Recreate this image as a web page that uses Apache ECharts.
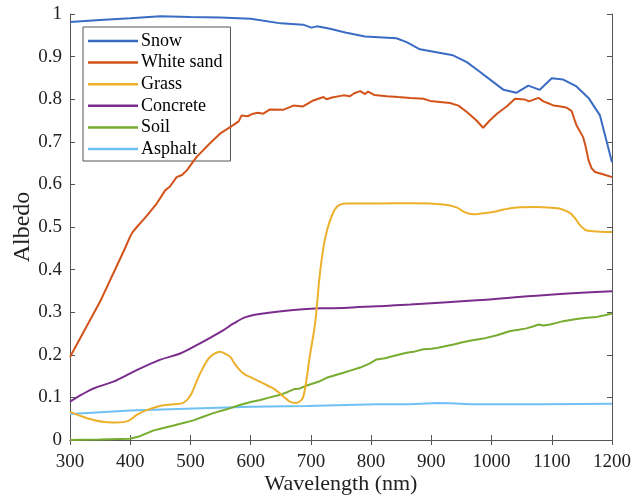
<!DOCTYPE html>
<html>
<head>
<meta charset="utf-8">
<script src="https://cdn.jsdelivr.net/npm/echarts@6/dist/echarts.min.js"></script>
<style>html,body{margin:0;padding:0;background:#fff;}#c{width:632px;height:498px;}</style>
</head>
<body>
<div id="c"></div>
<script>
const seriesNames = ['Snow', 'White sand', 'Grass', 'Concrete', 'Soil', 'Asphalt'];
const xTicks = [300, 400, 500, 600, 700, 800, 900, 1000, 1100, 1200];
const yTicks = [0, 0.1, 0.2, 0.3, 0.4, 0.5, 0.6, 0.7, 0.8, 0.9, 1];

const snow = [[300,0.981],[350,0.986],[400,0.990],[450,0.995],[500,0.993],[550,0.992],[600,0.989],[650,0.978],[687,0.975],[701,0.968],[710,0.971],[730,0.966],[759,0.956],[790,0.947],[842,0.943],[859,0.934],[881,0.917],[936,0.903],[959,0.887],[981,0.864],[1003,0.840],[1020,0.822],[1041,0.815],[1061,0.832],[1080,0.822],[1100,0.849],[1119,0.846],[1141,0.830],[1161,0.803],[1180,0.762],[1200,0.652]];

const whiteSand = [[300,0.195],[350,0.325],[391,0.449],[400,0.478],[404,0.488],[411,0.500],[425,0.522],[444,0.555],[458,0.586],[466,0.595],[477,0.617],[486,0.622],[494,0.633],[510,0.664],[530,0.693],[549,0.719],[571,0.739],[580,0.748],[585,0.762],[595,0.760],[604,0.766],[612,0.768],[621,0.766],[632,0.776],[654,0.775],[671,0.785],[687,0.783],[704,0.797],[721,0.805],[726,0.800],[735,0.804],[754,0.809],[765,0.807],[772,0.814],[782,0.819],[790,0.812],[795,0.818],[805,0.810],[826,0.807],[845,0.805],[865,0.803],[887,0.801],[898,0.796],[931,0.791],[945,0.785],[959,0.770],[975,0.750],[986,0.733],[997,0.750],[1009,0.766],[1025,0.783],[1039,0.801],[1050,0.800],[1056,0.799],[1062,0.795],[1070,0.799],[1078,0.803],[1086,0.795],[1095,0.790],[1103,0.785],[1115,0.783],[1125,0.780],[1133,0.772],[1137,0.755],[1141,0.739],[1152,0.711],[1156,0.690],[1161,0.657],[1166,0.638],[1172,0.629],[1185,0.624],[1200,0.617]];

const grass = [[300,0.066],[320,0.055],[339,0.047],[358,0.042],[378,0.041],[397,0.045],[411,0.059],[427,0.070],[449,0.080],[472,0.084],[488,0.087],[499,0.102],[508,0.130],[516,0.156],[530,0.191],[540,0.203],[549,0.207],[557,0.203],[566,0.195],[574,0.178],[582,0.164],[590,0.154],[599,0.148],[615,0.137],[632,0.125],[640,0.119],[649,0.109],[657,0.099],[665,0.090],[675,0.087],[682,0.091],[687,0.100],[692,0.135],[698,0.195],[707,0.274],[715,0.391],[723,0.469],[732,0.516],[743,0.547],[759,0.555],[800,0.555],[870,0.556],[920,0.553],[942,0.546],[955,0.535],[970,0.530],[985,0.532],[1003,0.535],[1020,0.541],[1042,0.546],[1075,0.547],[1100,0.545],[1114,0.543],[1130,0.533],[1140,0.518],[1147,0.504],[1155,0.494],[1161,0.491],[1180,0.489],[1200,0.488]];

const concrete = [[300,0.090],[320,0.107],[339,0.121],[372,0.137],[405,0.160],[449,0.188],[483,0.203],[516,0.227],[555,0.258],[571,0.273],[593,0.289],[627,0.298],[671,0.305],[715,0.309],[754,0.310],[809,0.314],[865,0.318],[975,0.328],[1086,0.340],[1200,0.349]];

const soil = [[300,0.000],[350,0.001],[400,0.003],[416,0.009],[438,0.022],[455,0.028],[472,0.034],[488,0.040],[505,0.046],[520,0.054],[538,0.063],[560,0.072],[582,0.082],[600,0.089],[616,0.094],[632,0.100],[649,0.106],[660,0.112],[671,0.119],[682,0.121],[693,0.128],[715,0.138],[726,0.146],[740,0.152],[754,0.158],[768,0.164],[782,0.170],[798,0.180],[809,0.189],[823,0.192],[837,0.197],[859,0.205],[873,0.208],[887,0.213],[900,0.214],[909,0.216],[923,0.220],[937,0.224],[950,0.229],[964,0.233],[986,0.238],[1009,0.246],[1031,0.256],[1045,0.259],[1058,0.262],[1070,0.267],[1078,0.271],[1086,0.269],[1097,0.271],[1108,0.275],[1119,0.279],[1141,0.284],[1158,0.287],[1175,0.289],[1188,0.293],[1200,0.297]];

const asphalt = [[300,0.061],[400,0.069],[505,0.074],[600,0.078],[693,0.080],[809,0.084],[865,0.084],[909,0.087],[931,0.086],[964,0.084],[1086,0.084],[1200,0.085]];

const colors = ['#3a6cc3', '#d25319', '#ecb02a', '#7b2d8d', '#77ac30', '#6fc0f4'];
const datasets = [snow, whiteSand, grass, concrete, soil, asphalt];
const FONT = 'Liberation Serif';
const axisColor = '#555';

const chart = echarts.init(document.getElementById('c'), null, {renderer: 'canvas'});
const baseAxis = {
  type: 'value',
  axisLine: {show: true, lineStyle: {color: axisColor, width: 1}},
  axisTick: {show: true, inside: true, length: 5, lineStyle: {color: axisColor}},
  splitLine: {show: false},
};
chart.setOption({
  animation: false,
  backgroundColor: '#fff',
  grid: {left: 70, right: 20, top: 14, bottom: 58, containLabel: false, outerBoundsMode: 'none'},
  legend: {
    show: true,
    data: seriesNames.map(n => ({name: n, icon: 'rect'})),
    orient: 'vertical',
    left: 83, top: 27,
    itemWidth: 50, itemHeight: 2.5, itemGap: 3.6,
    padding: [5, 8, 3, 5],
    borderColor: '#555', borderWidth: 1, backgroundColor: '#fff',
    textStyle: {fontFamily: FONT, fontSize: 18, color: '#000', padding: [0,0,0,-2]},
  },
  xAxis: [
    Object.assign({}, baseAxis, {
      min: 300, max: 1200, interval: 100, position: 'bottom',
      axisLabel: {show: true, fontFamily: FONT, fontSize: 19, color: '#222', margin: 13,
        formatter: v => xTicks.includes(v) ? String(v) : ''},
      name: 'Wavelength (nm)', nameLocation: 'middle', nameGap: 33, nameMoveOverlap: false,
      nameTextStyle: {fontFamily: FONT, fontSize: 22, color: '#222'},
    }),
    Object.assign({}, baseAxis, {
      min: 300, max: 1200, interval: 100, position: 'top', axisLabel: {show: false},
    }),
  ],
  yAxis: [
    Object.assign({}, baseAxis, {
      min: 0, max: 1, interval: 0.1, position: 'left',
      axisLabel: {show: true, fontFamily: FONT, fontSize: 19, color: '#222', margin: 8,
        formatter: v => { const t = yTicks.find(k => Math.abs(k - v) < 1e-9); return t === undefined ? '' : String(t); }},
      name: 'Albedo', nameLocation: 'middle', nameGap: 35, nameMoveOverlap: false,
      nameTextStyle: {fontFamily: FONT, fontSize: 24, color: '#222'},
    }),
    Object.assign({}, baseAxis, {
      min: 0, max: 1, interval: 0.1, position: 'right', axisLabel: {show: false},
    }),
  ],
  series: seriesNames.map((n, i) => ({
    name: n, type: 'line', data: datasets[i], xAxisIndex: 0, yAxisIndex: 0,
    symbol: 'none', smooth: (n === 'Grass' || n === 'Concrete') ? 0.35 : false,
    lineStyle: {color: colors[i], width: 2}, itemStyle: {color: colors[i]},
    z: 10 - i,
  })),
});
</script>
</body>
</html>
